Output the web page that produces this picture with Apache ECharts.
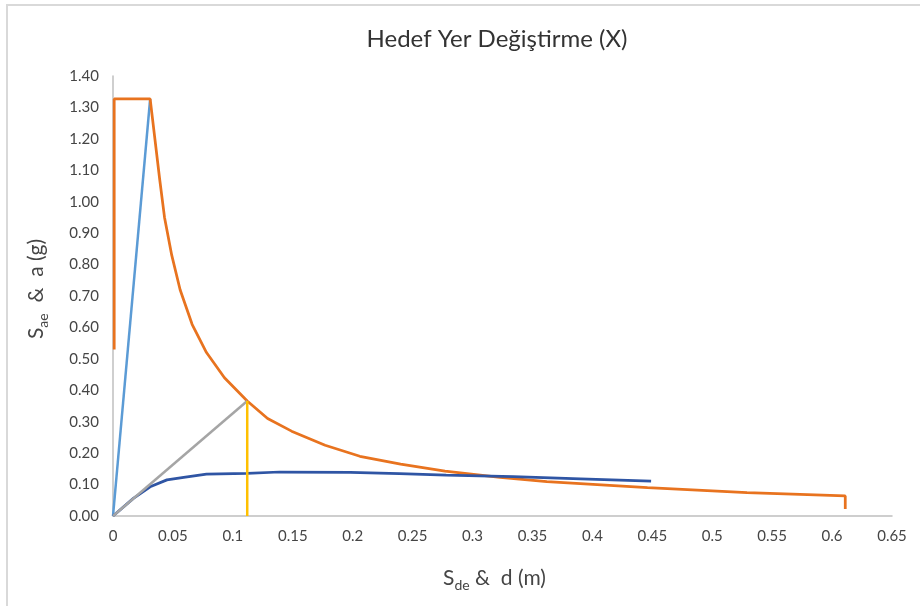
<!DOCTYPE html>
<html>
<head>
<meta charset="utf-8">
<script src="https://cdn.jsdelivr.net/npm/echarts@6/dist/echarts.min.js"></script>
<style>
  html, body { margin: 0; padding: 0; background: #fff; }
  #frame { position: absolute; left: 6px; top: 4px; width: 960px; height: 640px; border: 2px solid #d9d9d9; box-sizing: border-box; }
  #chart { position: absolute; left: 0; top: 0; width: 920px; height: 606px; }
</style>
</head>
<body>
<div id="frame"></div>
<div id="chart"></div>
<script>
// talep spektrumu (ADRS)
var demandSd = [0.001, 0.001, 0.031, 0.039, 0.043, 0.049, 0.056, 0.066, 0.078, 0.093, 0.112, 0.129, 0.149, 0.177, 0.206, 0.240, 0.277, 0.323, 0.362, 0.446, 0.529, 0.611, 0.611];
var demandSa = [0.53, 1.327, 1.327, 1.07, 0.95, 0.83, 0.72, 0.61, 0.52, 0.44, 0.366, 0.31, 0.27, 0.225, 0.19, 0.165, 0.143, 0.123, 0.109, 0.090, 0.074, 0.064, 0.022];
// kapasite egrisi
var capacitySd = [0, 0.017, 0.031, 0.045, 0.059, 0.078, 0.112, 0.139, 0.198, 0.239, 0.278, 0.334, 0.390, 0.449];
var capacitySa = [0, 0.056, 0.093, 0.115, 0.123, 0.133, 0.136, 0.140, 0.139, 0.135, 0.130, 0.125, 0.118, 0.111];
// elastik dogrular ve performans noktasi
var elasticSd = [0, 0.031];
var elasticSa = [0, 1.327];
var secantSd = [0, 0.112];
var secantSa = [0, 0.366];
var targetSd = [0.112, 0.112];
var targetSa = [0, 0.366];

function pairs(xs, ys) {
    return xs.map(function (x, i) { return [x, ys[i]]; });
}

var font = 'Lato, "Open Sans", sans-serif';
var axisColor = '#bfbfbf';
var labelColor = '#454545';

function line(name, xs, ys, color, width) {
    return {
        name: name,
        type: 'line',
        data: pairs(xs, ys),
        showSymbol: false,
        symbol: 'none',
        lineStyle: { color: color, width: width },
        itemStyle: { color: color },
        animation: false,
        z: 2
    };
}

var nameRich = {
    m: { fontFamily: font, fontSize: 21, color: labelColor, lineHeight: 28 },
    s: { fontFamily: font, fontSize: 14, color: labelColor, verticalAlign: 'bottom' }
};

var chart = echarts.init(document.getElementById('chart'));
chart.setOption({
    animation: false,
    title: {
        text: 'Hedef Yer Değiştirme (X)',
        left: 492,
        top: 22,
        textAlign: 'center',
        textStyle: { fontFamily: font, fontSize: 24, fontWeight: 'normal', color: '#333333' }
    },
    grid: { left: 113, right: 28, top: 76, bottom: 90, containLabel: false },
    xAxis: {
        type: 'value',
        min: 0,
        max: 0.65,
        interval: 0.05,
        name: '{m|S}{s|de}{m| &  d (m)}',
        nameLocation: 'middle',
        nameGap: 48,
        nameTextStyle: { padding: [0, 16, 0, 0], rich: nameRich },
        axisLine: { show: true, lineStyle: { color: axisColor, width: 1.5 } },
        axisTick: { show: false },
        splitLine: { show: false },
        axisLabel: {
            margin: 13,
            fontFamily: font, fontSize: 15, color: labelColor,
            formatter: function (v) { return String(+v.toFixed(2)); }
        }
    },
    yAxis: {
        type: 'value',
        min: 0,
        max: 1.4,
        interval: 0.1,
        name: '{m|S}{s|ae}{m|  &  a (g)}',
        nameLocation: 'middle',
        nameGap: 63,
        nameTextStyle: { padding: [0, 0, 0, 14], rich: nameRich },
        axisLine: { show: true, lineStyle: { color: axisColor, width: 1.5 } },
        axisTick: { show: false },
        splitLine: { show: false },
        axisLabel: {
            margin: 14,
            fontFamily: font, fontSize: 15, color: labelColor,
            formatter: function (v) { return v.toFixed(2); }
        }
    },
    series: [
        line('Elastik', elasticSd, elasticSa, '#5B9BD5', 2.5),
        line('Talep', demandSd, demandSa, '#E8731F', 2.75),
        line('Kapasite', capacitySd, capacitySa, '#2F55A4', 2.75),
        line('Sekant', secantSd, secantSa, '#A5A5A5', 2.5),
        line('Hedef', targetSd, targetSa, '#FFC000', 2.5)
    ]
});
</script>
</body>
</html>
